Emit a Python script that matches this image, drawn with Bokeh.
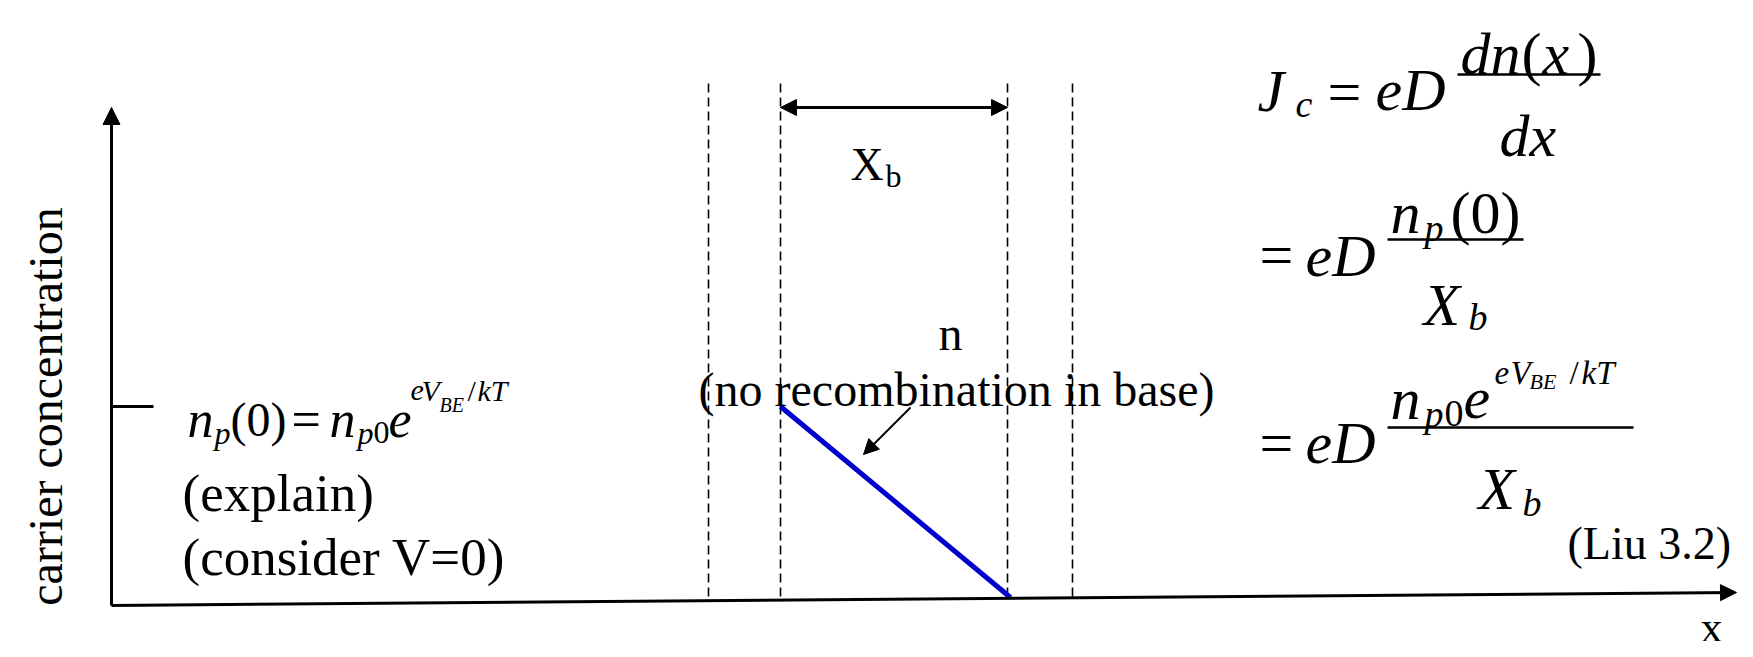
from bokeh.plotting import figure
from bokeh.models import Range1d, Arrow, NormalHead, ColumnDataSource
from bokeh.core.properties import value
from bokeh.embed import file_html
from bokeh.resources import INLINE
import math

# ---- schematic data (frame: picture pixels, y downward) ----
region_bounds_x = [708, 780, 1007, 1072]      # dashed boundaries (emitter | base | collector)
region_top_y = 83
np0_level_y = 406                              # n_p(0) level on the concentration axis
profile_x = [780, 1010]                        # electron profile in base (no recombination)
profile_y = [406, 597]
axis_origin = (111, 605)
x_axis_end = (1736, 592)
y_axis_end = (111, 107)

FONT = value("Liberation Serif")

p = figure(width=1737, height=641, x_range=Range1d(0, 1737), y_range=Range1d(641, 0),
           output_backend="svg", toolbar_location=None, min_border=0,
           x_axis_location=None, y_axis_location=None, outline_line_color=None,
           background_fill_color="white", border_fill_color="white")
p.xgrid.visible = False
p.ygrid.visible = False

def head(size):
    return NormalHead(size=size, fill_color="black", line_color="black", line_width=1)

# axes with arrows
p.add_layout(Arrow(x_start=axis_origin[0], y_start=axis_origin[1], x_end=y_axis_end[0], y_end=y_axis_end[1],
                   line_width=3, line_color="black", end=head(17)))
p.add_layout(Arrow(x_start=axis_origin[0], y_start=axis_origin[1], x_end=x_axis_end[0], y_end=x_axis_end[1],
                   line_width=3, line_color="black", end=head(16)))

# tick for n_p(0)
p.segment(x0=[axis_origin[0]], y0=[np0_level_y], x1=[153], y1=[np0_level_y], line_color="black", line_width=3)

# dashed boundaries, ending on the (slightly tilted) x-axis
def axis_y_at(x):
    return axis_origin[1] + (x_axis_end[1] - axis_origin[1]) * (x - axis_origin[0]) / (x_axis_end[0] - axis_origin[0])

p.segment(x0=region_bounds_x, y0=[region_top_y] * 4, x1=region_bounds_x,
          y1=[axis_y_at(x) for x in region_bounds_x],
          line_color="black", line_width=1.6, line_dash="9 5")

# X_b dimension arrow
p.add_layout(Arrow(x_start=region_bounds_x[1], y_start=107, x_end=region_bounds_x[2], y_end=107,
                   line_width=3, line_color="black", start=head(16), end=head(16)))

# blue carrier profile
p.line(profile_x, profile_y, line_color="#0000CC", line_width=5)

# small pointer arrow
p.add_layout(Arrow(x_start=910, y_start=407, x_end=863, y_end=454, line_width=2, line_color="black",
                   end=head(15)))

# fraction bars
p.segment(x0=[1457, 1387, 1387], y0=[74, 239, 427], x1=[1600, 1523, 1633], y1=[74, 239, 427],
          line_color="black", line_width=2.5)

# text runs: x, baseline y, text, size(px), style, align
runs = [
    # left annotation
    (187, 419, "n", 52, "italic", "left"),
    (214, 432, "p", 32, "italic", "left"),
    (230, 419, "(0)", 48, "normal", "left"),
    (291, 419, "=", 52, "normal", "left"),
    (329, 419, "n", 52, "italic", "left"),
    (357, 432, "p", 32, "italic", "left"),
    (373, 432, "0", 32, "normal", "left"),
    (388, 419, "e", 52, "italic", "left"),
    (410, 390, "e", 30, "italic", "left"),
    (421, 390, "V", 30, "italic", "left"),
    (439, 404, "BE", 20, "italic", "left"),
    (467, 390, "/", 30, "normal", "left"),
    (477, 390, "kT", 30, "italic", "left"),
    (182, 492, "(explain)", 53, "normal", "left"),
    (182, 556, "(consider V=0)", 53, "normal", "left"),
    # middle labels
    (850, 164, "X", 46, "normal", "left"),
    (885, 175, "b", 32, "normal", "left"),
    (950, 333, "n", 48, "normal", "center"),
    (956, 389, "(no recombination in base)", 48, "normal", "center"),
    (1700, 627, "x", 44, "normal", "left"),
    # right equations, line 1
    (1257, 90, "J", 60, "italic", "left"),
    (1295, 103, "c", 38, "italic", "left"),
    (1327, 91, "=", 60, "normal", "left"),
    (1375, 89, "eD", 60, "italic", "left"),
    (1460, 53, "dn", 60, "italic", "left"),
    (1521, 53, "(", 60, "normal", "left"),
    (1542, 53, "x", 60, "italic", "left"),
    (1577, 53, ")", 60, "normal", "left"),
    (1499, 135, "dx", 60, "italic", "left"),
    # line 2
    (1259, 254, "=", 60, "normal", "left"),
    (1305, 255, "eD", 60, "italic", "left"),
    (1390, 212, "n", 60, "italic", "left"),
    (1424, 227, "p", 38, "italic", "left"),
    (1450, 212, "(0)", 60, "normal", "left"),
    (1423, 304, "X", 60, "italic", "left"),
    (1468, 316, "b", 38, "italic", "left"),
    # line 3
    (1259, 442, "=", 60, "normal", "left"),
    (1305, 442, "eD", 60, "italic", "left"),
    (1390, 398, "n", 60, "italic", "left"),
    (1424, 413, "p", 38, "italic", "left"),
    (1444, 413, "0", 38, "normal", "left"),
    (1463, 398, "e", 60, "italic", "left"),
    (1494, 372, "e", 33, "italic", "left"),
    (1510, 372, "V", 33, "italic", "left"),
    (1529, 381, "BE", 22, "italic", "left"),
    (1569, 372, "/", 33, "normal", "left"),
    (1581, 372, "kT", 33, "italic", "left"),
    (1478, 488, "X", 60, "italic", "left"),
    (1522, 502, "b", 38, "italic", "left"),
    (1567, 543, "(Liu 3.2)", 46, "normal", "left"),
]

for align in ("left", "center"):
    sel = [r for r in runs if r[5] == align]
    src = ColumnDataSource(dict(x=[r[0] for r in sel], y=[r[1] for r in sel], t=[r[2] for r in sel],
                                fs=["%dpx" % r[3] for r in sel], st=[r[4] for r in sel]))
    p.text(x="x", y="y", text="t", source=src, text_font=FONT, text_font_size="fs",
           text_font_style="st", text_align=align, text_baseline="alphabetic", text_color="black")

# rotated y-axis label
p.text(x=[45], y=[406], text=["carrier concentration"], angle=math.pi / 2, text_font=FONT,
       text_font_size=value("48px"), text_align="center", text_baseline="alphabetic", text_color="black")

open("out.html", "w").write(file_html(p, INLINE))
